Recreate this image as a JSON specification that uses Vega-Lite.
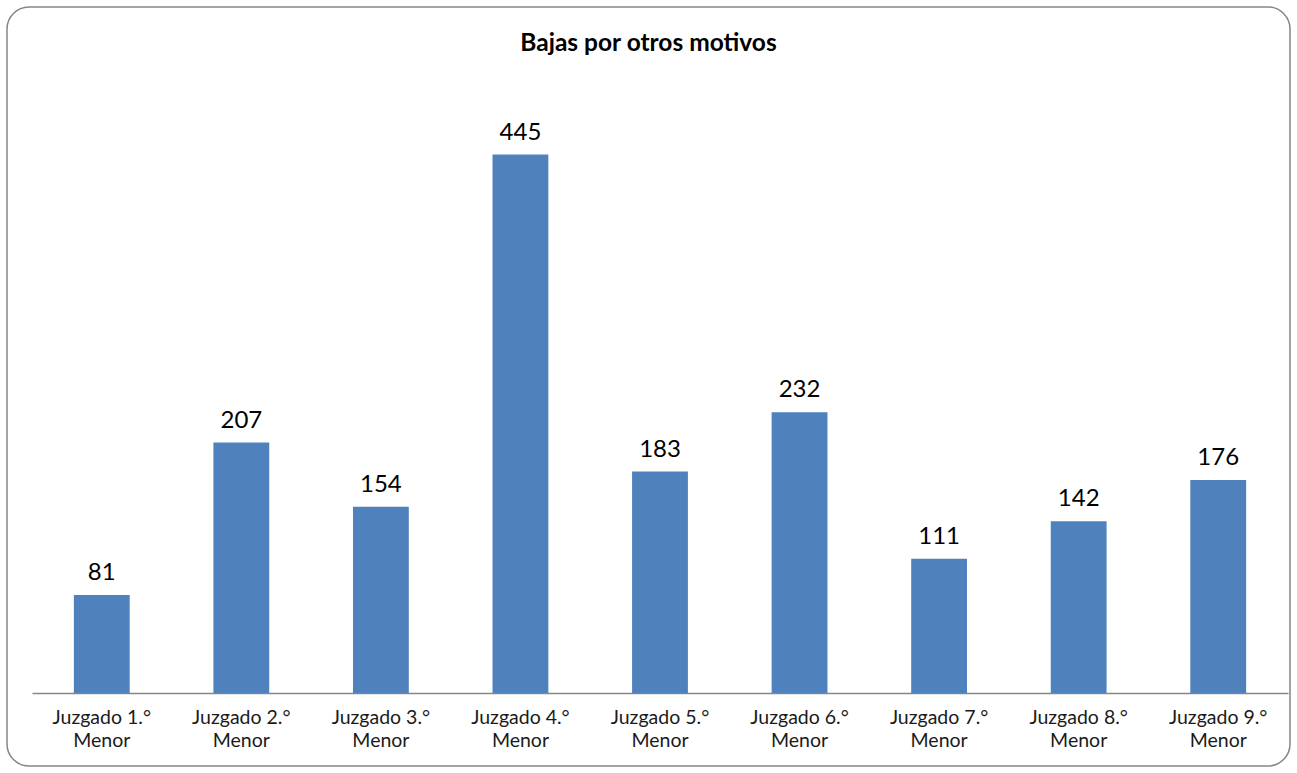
{
  "$schema": "https://vega.github.io/schema/vega-lite/v6.json",
  "width": 1283,
  "height": 759,
  "autosize": {"type": "none"},
  "padding": {"left": 7, "top": 7, "right": 7, "bottom": 7},
  "background": "white",
  "title": {
    "text": "Bajas por otros motivos",
    "font": "Lato",
    "fontSize": 24.5,
    "fontWeight": "bold",
    "color": "#000000",
    "anchor": "middle",
    "baseline": "alphabetic",
    "offset": -68
  },
  "config": {
    "view": {"stroke": "#868686", "strokeWidth": 1.5, "cornerRadius": 22},
    "font": "Lato"
  },
  "data": {
    "values": [
      {"juzgado": "Juzgado 1.° Menor", "bajas": 81},
      {"juzgado": "Juzgado 2.° Menor", "bajas": 207},
      {"juzgado": "Juzgado 3.° Menor", "bajas": 154},
      {"juzgado": "Juzgado 4.° Menor", "bajas": 445},
      {"juzgado": "Juzgado 5.° Menor", "bajas": 183},
      {"juzgado": "Juzgado 6.° Menor", "bajas": 232},
      {"juzgado": "Juzgado 7.° Menor", "bajas": 111},
      {"juzgado": "Juzgado 8.° Menor", "bajas": 142},
      {"juzgado": "Juzgado 9.° Menor", "bajas": 176}
    ]
  },
  "encoding": {
    "x": {
      "field": "juzgado",
      "type": "nominal",
      "sort": null,
      "scale": {"range": [25, 1281], "paddingInner": 0.6, "paddingOuter": 0.3},
      "axis": {
        "title": null,
        "orient": "bottom",
        "offset": -73,
        "labelAngle": 0,
        "labelExpr": "[replace(datum.label, ' Menor', ''), 'Menor']",
        "labelFont": "Lato",
        "labelFontSize": 19.5,
        "labelColor": "#1a1a1a",
        "labelLineHeight": 23,
        "labelPadding": 15,
        "ticks": false,
        "domainColor": "#868686",
        "domainWidth": 1.5,
        "grid": false
      }
    },
    "y": {
      "field": "bajas",
      "type": "quantitative",
      "scale": {"domain": [-60.33, 566.9], "nice": false, "zero": false},
      "axis": null
    }
  },
  "layer": [
    {
      "mark": {"type": "bar", "color": "#4F81BD"},
      "encoding": {"y2": {"datum": 0}}
    },
    {
      "mark": {"type": "text", "baseline": "bottom", "dy": -10, "fontSize": 24, "font": "Lato", "color": "#000000"},
      "encoding": {"text": {"field": "bajas", "type": "quantitative"}}
    }
  ]
}
